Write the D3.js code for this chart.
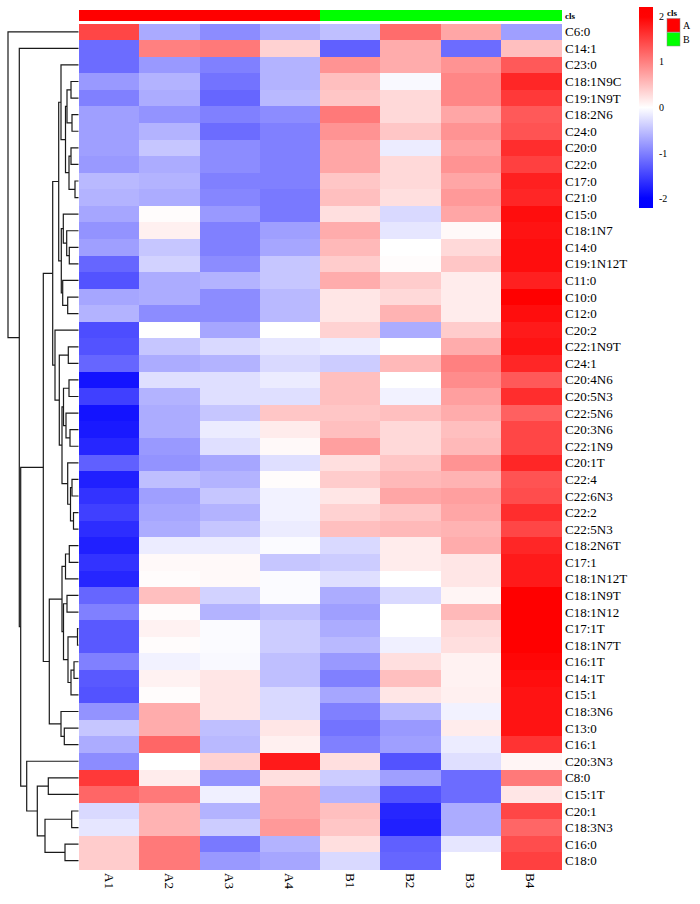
<!DOCTYPE html>
<html><head><meta charset="utf-8">
<script src="https://cdn.jsdelivr.net/npm/d3@7"></script>
<style>body{margin:0;background:#fff}</style>
</head><body>
<svg id="chart" width="700" height="904" xmlns="http://www.w3.org/2000/svg"></svg>
<script>
const rowLabels = ["C6:0","C14:1","C23:0","C18:1N9C","C19:1N9T","C18:2N6","C24:0","C20:0","C22:0","C17:0",
"C21:0","C15:0","C18:1N7","C14:0","C19:1N12T","C11:0","C10:0","C12:0","C20:2","C22:1N9T",
"C24:1","C20:4N6","C20:5N3","C22:5N6","C20:3N6","C22:1N9","C20:1T","C22:4","C22:6N3","C22:2",
"C22:5N3","C18:2N6T","C17:1","C18:1N12T","C18:1N9T","C18:1N12","C17:1T","C18:1N7T","C16:1T","C14:1T",
"C15:1","C18:3N6","C13:0","C16:1","C20:3N3","C8:0","C15:1T","C20:1","C18:3N3","C16:0","C18:0"];
const colLabels = ["A1","A2","A3","A4","B1","B2","B3","B4"];
const colGroups = ["A","A","A","A","B","B","B","B"];
const groupNames = ["A","B"];
const legendTicks = [2,1,0,-1,-2];

const A1 = [1.45,-1.15,-1.15,-0.8,-1.0,-0.75,-0.75,-0.75,-0.8,-0.55,
-0.6,-0.7,-0.85,-0.75,-1.2,-1.35,-0.7,-0.6,-1.4,-1.35,
-1.2,-1.85,-1.5,-1.85,-1.8,-1.7,-1.25,-1.75,-1.6,-1.5,
-1.65,-1.75,-1.6,-1.7,-1.2,-1.0,-1.3,-1.3,-1.0,-1.3,
-1.35,-0.85,-0.45,-0.65,-0.9,1.55,1.2,-0.3,-0.2,0.4,0.4];
const A2 = [-0.67,1.0,-0.8,-0.6,-0.65,-0.85,-0.6,-0.45,-0.65,-0.6,
-0.65,0.02,0.12,-0.45,-0.35,-0.65,-0.65,-0.9,0.0,-0.45,
-0.65,-0.25,-0.6,-0.65,-0.65,-0.8,-0.85,-0.5,-0.75,-0.7,
-0.65,-0.15,0.05,0.02,0.5,0.02,0.1,0.02,-0.1,0.1,
0.02,0.65,0.65,1.2,0.0,0.15,1.05,0.6,0.6,1.05,1.05];
const A3 = [-0.9,1.05,-1.0,-1.1,-1.2,-1.0,-1.15,-0.9,-0.9,-1.0,
-0.95,-0.8,-1.0,-1.0,-0.9,-0.6,-0.9,-0.9,-0.7,-0.3,
-0.6,-0.25,-0.25,-0.45,-0.15,-0.25,-0.7,-0.6,-0.45,-0.6,
-0.45,-0.15,0.05,0.05,-0.35,-0.6,-0.03,-0.03,-0.05,0.2,
0.2,0.2,-0.5,-0.55,0.35,-0.85,-0.12,-0.6,-0.4,-1.05,-0.8];
const A4 = [-0.65,0.35,-0.6,-0.6,-0.55,-0.9,-1.0,-1.0,-1.0,-1.0,
-1.05,-1.05,-0.75,-0.7,-0.45,-0.45,-0.55,-0.55,0.0,-0.2,
-0.3,-0.15,-0.25,0.45,0.15,0.05,-0.25,0.02,-0.1,-0.1,
-0.15,-0.03,-0.45,-0.03,-0.03,-0.5,-0.4,-0.4,-0.5,-0.5,
-0.3,-0.3,0.2,0.12,1.8,0.25,0.7,0.7,0.8,-0.6,-0.7];
const B1 = [-0.5,-1.25,0.85,0.5,0.45,1.05,0.85,0.7,0.7,0.45,
0.5,0.25,0.65,0.55,0.4,0.65,0.2,0.2,0.35,-0.15,
-0.4,0.5,0.5,0.45,0.5,0.75,0.25,0.4,0.2,0.35,
0.5,-0.3,-0.4,-0.25,-0.65,-0.75,-0.65,-0.55,-0.8,-1.0,
-0.7,-1.0,-1.1,-1.0,0.25,-0.4,-0.6,0.5,0.45,0.25,-0.3];
const B2 = [1.15,0.65,0.65,-0.05,0.3,0.3,0.45,-0.15,0.3,0.3,
0.25,-0.3,-0.2,0.0,0.02,0.4,0.3,0.6,-0.65,0.0,
0.55,0.0,-0.1,0.5,0.3,0.3,0.45,0.55,0.7,0.45,
0.55,0.15,0.15,0.0,-0.3,0.0,0.0,-0.12,0.25,0.5,
0.2,-0.55,-0.8,-0.75,-1.35,-0.75,-1.35,-1.7,-1.75,-1.25,-1.2];
const B3 = [0.7,-1.15,0.85,0.95,0.95,0.7,0.85,0.75,0.85,0.7,
0.8,0.7,0.05,0.3,0.45,0.15,0.15,0.15,0.4,0.65,
1.0,0.9,0.75,0.65,0.5,0.55,0.85,0.6,0.75,0.7,
0.6,0.65,0.2,0.2,0.08,0.55,0.3,0.25,0.1,0.1,
0.12,-0.1,0.15,-0.15,-0.25,-1.15,-1.15,-0.65,-0.65,-0.2,0.0];
const B4 = [-0.75,0.5,1.3,1.7,1.55,1.3,1.35,1.65,1.5,1.75,
1.7,1.9,1.85,1.9,1.9,1.75,2.0,1.9,1.8,1.85,
1.7,1.3,1.65,1.25,1.45,1.45,1.7,1.35,1.4,1.65,
1.45,1.7,1.8,1.8,2.0,2.0,2.0,2.0,1.95,1.9,
1.85,1.85,1.85,1.6,0.08,1.05,0.2,1.45,1.2,1.4,1.5];

// Row dendrogram, hclust style: negative = leaf -(row+1), positive = earlier merge (1-based); third = height
const merges = [
[-4,-5,1.5],[-6,-7,1.3],[1,2,2.3],[-8,-9,1.5],[-10,-11,0.7],[4,5,1.9],[3,6,2.6],[-3,7,3.5],
[-14,-15,1.84],[-13,9,2.36],[-12,10,3.04],[-17,-18,2.16],[-16,12,3.16],[11,13,3.44],[8,14,3.96],
[-20,-21,2.04],[-22,-23,1.9],[-25,-26,1.7],[-24,18,2.5],[17,19,3.0],[-28,-29,1.3],[-30,-31,1.0],
[21,22,1.6],[-27,23,2.16],[20,24,3.3],[16,25,3.84],[-19,26,4.7],[15,27,5.16],
[-32,-33,1.84],[29,-34,2.6],[-35,-36,2.3],[-37,-38,0.2],[-39,-40,0.9],[33,-41,1.5],[32,34,2.1],
[31,35,3.0],[30,36,3.3],[-43,-44,2.84],[-42,38,3.5],[37,39,5.84],[28,40,7.04],
[-46,-47,6.04],[-48,-49,1.36],[-50,-51,2.7],[43,44,6.7],[42,45,8.24],[-45,46,10.36],
[41,47,11.56],[-2,48,11.84],[-1,49,14.1]
];

const series = [A1,A2,A3,A4,B1,B2,B3,B4];
const FONT = "'Liberation Serif','Times New Roman',serif";
const svg = d3.select("#chart");

const hm = {left:79, right:561, top:23.5, bottom:869};
const x = d3.scaleBand().domain(d3.range(colLabels.length)).range([hm.left, hm.right]);
const y = d3.scaleBand().domain(d3.range(rowLabels.length)).range([hm.top, hm.bottom]);
const color = d3.scaleLinear().domain([-2,0,2]).range(["#0000ff","#ffffff","#ff0000"]).clamp(true);
const groupColor = d3.scaleOrdinal().domain(groupNames).range(["#ff0000","#00ff00"]);

// heatmap cells
const cells = [];
series.forEach((s, c) => s.forEach((v, r) => cells.push({c, r, v})));
svg.append("g").attr("shape-rendering","crispEdges")
  .selectAll("rect").data(cells).join("rect")
  .attr("x", d => x(d.c)).attr("y", d => y(d.r))
  .attr("width", x.bandwidth()+0.5).attr("height", y.bandwidth()+0.5)
  .attr("fill", d => color(d.v));

// annotation bar
svg.append("g").attr("shape-rendering","crispEdges")
  .selectAll("rect").data(colGroups).join("rect")
  .attr("x", (g,i) => x(i)).attr("y", 10)
  .attr("width", x.bandwidth()+0.5).attr("height", 10.5)
  .attr("fill", g => groupColor(g));
svg.append("text").attr("x", 565).attr("y", 18.5)
  .attr("font-family", FONT).attr("font-size", 9).attr("font-weight","bold").text("cls");

// row labels
svg.append("g").selectAll("text").data(rowLabels).join("text")
  .attr("x", 565).attr("y", (d,i) => y(i) + y.bandwidth()/2)
  .attr("dy","0.35em").attr("font-family", FONT).attr("font-size", 13).attr("fill","#000")
  .text(d => d);

// column labels
svg.append("g").selectAll("text").data(colLabels).join("text")
  .attr("transform", (d,i) => `translate(${x(i)+x.bandwidth()/2},873) rotate(90)`)
  .attr("dy","0.35em").attr("font-family", FONT).attr("font-size", 13).attr("fill","#000")
  .text(d => d);

// dendrogram
const dx = d3.scaleLinear().domain([0, d3.max(merges, m => m[2])]).range([78.5, 8]);
const nodePos = [];
function pos(id) {
  if (id < 0) return {x: dx(0), y: y(-id-1) + y.bandwidth()/2};
  return nodePos[id-1];
}
const segs = [];
merges.forEach(([a,b,h]) => {
  const pa = pos(a), pb = pos(b), nx = dx(h);
  segs.push(`M${pa.x},${pa.y}H${nx}V${pb.y}H${pb.x}`);
  nodePos.push({x: nx, y: (pa.y+pb.y)/2});
});
svg.append("g").selectAll("path").data(segs).join("path")
  .attr("d", d => d).attr("fill","none").attr("stroke","#1a1a1a").attr("stroke-width",1.2);

// colour legend
const ly = d3.scaleLinear().domain([-2.2, 2.2]).range([208, 7]);
const defs = svg.append("defs");
const grad = defs.append("linearGradient").attr("id","lg").attr("x1",0).attr("y1",1).attr("x2",0).attr("y2",0);
d3.range(0, 1.0001, 0.05).forEach(t => {
  const v = -2.2 + 4.4*t;
  grad.append("stop").attr("offset", t).attr("stop-color", color(v));
});
svg.append("rect").attr("x",639).attr("y",ly(2.2)).attr("width",14).attr("height",ly(-2.2)-ly(2.2))
  .attr("fill","url(#lg)");
svg.append("g").selectAll("text").data(legendTicks).join("text")
  .attr("x", 659).attr("y", d => ly(d)).attr("dy","0.35em")
  .attr("font-family", FONT).attr("font-size", 10).text(d => d);

// group legend
svg.append("text").attr("x", 667).attr("y", 15.5)
  .attr("font-family", FONT).attr("font-size", 9).attr("font-weight","bold").text("cls");
const gl = svg.append("g");
groupNames.forEach((g, i) => {
  gl.append("rect").attr("x", 667).attr("y", 18.5 + i*14).attr("width", 13).attr("height", 13.5)
    .attr("fill", groupColor(g)).attr("stroke","#888").attr("stroke-width",0.5);
  gl.append("text").attr("x", 683).attr("y", 25 + i*14.5).attr("dy","0.35em")
    .attr("font-family", FONT).attr("font-size", 10).text(g);
});
</script>
</body></html>
